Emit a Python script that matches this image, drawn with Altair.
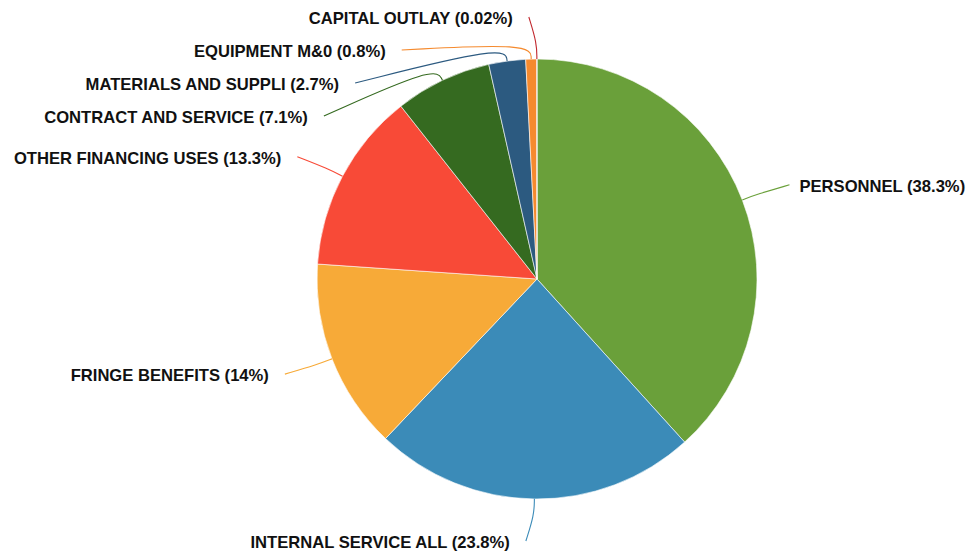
import math
import altair as alt
import pandas as pd

# ---- data ----
names = ["PERSONNEL", "INTERNAL SERVICE ALL", "FRINGE BENEFITS", "OTHER FINANCING USES",
         "CONTRACT AND SERVICE", "MATERIALS AND SUPPLI", "EQUIPMENT M&0", "CAPITAL OUTLAY"]
shares = [38.3, 23.8, 14, 13.3, 7.1, 2.7, 0.8, 0.02]
share_text = ["38.3%", "23.8%", "14%", "13.3%", "7.1%", "2.7%", "0.8%", "0.02%"]
colors = ["#6aa03a", "#3b8bb8", "#f7aa38", "#f84a37", "#356a20", "#2c5a80", "#f58a2e", "#c1272d"]

# ---- layout (page pixels) ----
W, H = 958, 550
CX, CY = 537, 279
R = 220          # pie radius
R1 = 236         # elbow of leader line
RL = 262         # label-line end radius
XOFF = 8         # extra horizontal run of the leader line
GAP = 33         # min vertical distance between labels
TXT_L, TXT_R = 16, 10   # gap between line end and text
YMIN, YMAX = 17, 545

total = sum(shares)
rows, line_rows = [], []
cum = 0.0
items = []
for i, (n, v, t) in enumerate(zip(names, shares, share_text)):
    mid = (cum + v / 2) / total * 2 * math.pi
    cum += v
    s, c = math.sin(mid), math.cos(mid)
    items.append(dict(i=i, name=n, label=f"{n} ({t})", s=s, c=c,
                      side="right" if s > 0 else "left",
                      y=min(max(CY - RL * c, YMIN), YMAX)))

# push labels apart on each side (top to bottom)
for side in ("left", "right"):
    grp = sorted([it for it in items if it["side"] == side], key=lambda d: d["y"])
    prev = None
    for it in grp:
        if prev is not None and it["y"] < prev + GAP:
            it["y"] = prev + GAP
        prev = it["y"]

for it in items:
    dy = it["y"] - CY
    dx = math.sqrt(max(RL ** 2 - dy ** 2, 0)) + XOFF
    if it["side"] == "right":
        xe = CX + dx
        tx = xe + TXT_R
    else:
        xe = CX - dx
        tx = xe - TXT_L
    rows.append(dict(name=it["name"], label=it["label"], side=it["side"],
                     tx=tx, ty=it["y"] + 2, idx=it["i"],
                     val=shares[it["i"]], cx=CX, cy=CY))
    pts = [(CX + R * it["s"], CY - R * it["c"]),
           (CX + R1 * it["s"], CY - R1 * it["c"]),
           (xe, it["y"])]
    for k, (px, py) in enumerate(pts):
        line_rows.append(dict(name=it["name"], seq=k, x=px, y=py))

df = pd.DataFrame(rows)
ldf = pd.DataFrame(line_rows)

xs = alt.Scale(domain=[8, 8 + W], nice=False, zero=False)
ys = alt.Scale(domain=[8, 8 + H], nice=False, zero=False, reverse=True)
cs = alt.Scale(domain=names, range=colors)

arc = alt.Chart(df).mark_arc(outerRadius=R, stroke="#ffffff", strokeWidth=0.6).encode(
    theta=alt.Theta("val:Q", stack=True),
    order=alt.Order("idx:Q"),
    color=alt.Color("name:N", scale=cs, legend=None),
    x=alt.X("cx:Q", scale=xs, axis=None),
    y=alt.Y("cy:Q", scale=ys, axis=None),
)

lines = alt.Chart(ldf).mark_line(interpolate="basis", strokeWidth=1.1).encode(
    x=alt.X("x:Q", scale=xs, axis=None),
    y=alt.Y("y:Q", scale=ys, axis=None),
    detail="name:N",
    order="seq:Q",
    color=alt.Color("name:N", scale=cs, legend=None),
)

def text_layer(side, align):
    return alt.Chart(df).transform_filter(alt.datum.side == side).mark_text(
        align=align, baseline="middle", font="Liberation Sans", fontSize=16.6,
        fontWeight="bold", color="#111111"
    ).encode(
        x=alt.X("tx:Q", scale=xs, axis=None),
        y=alt.Y("ty:Q", scale=ys, axis=None),
        text="label:N",
    )

chart = alt.layer(arc, lines, text_layer("left", "right"), text_layer("right", "left")).properties(
    width=W, height=H, padding=0, autosize=alt.AutoSizeParams(type="none")
).configure_view(stroke=None)

chart.save("out.html", embed_options={"renderer": "svg", "actions": False})
